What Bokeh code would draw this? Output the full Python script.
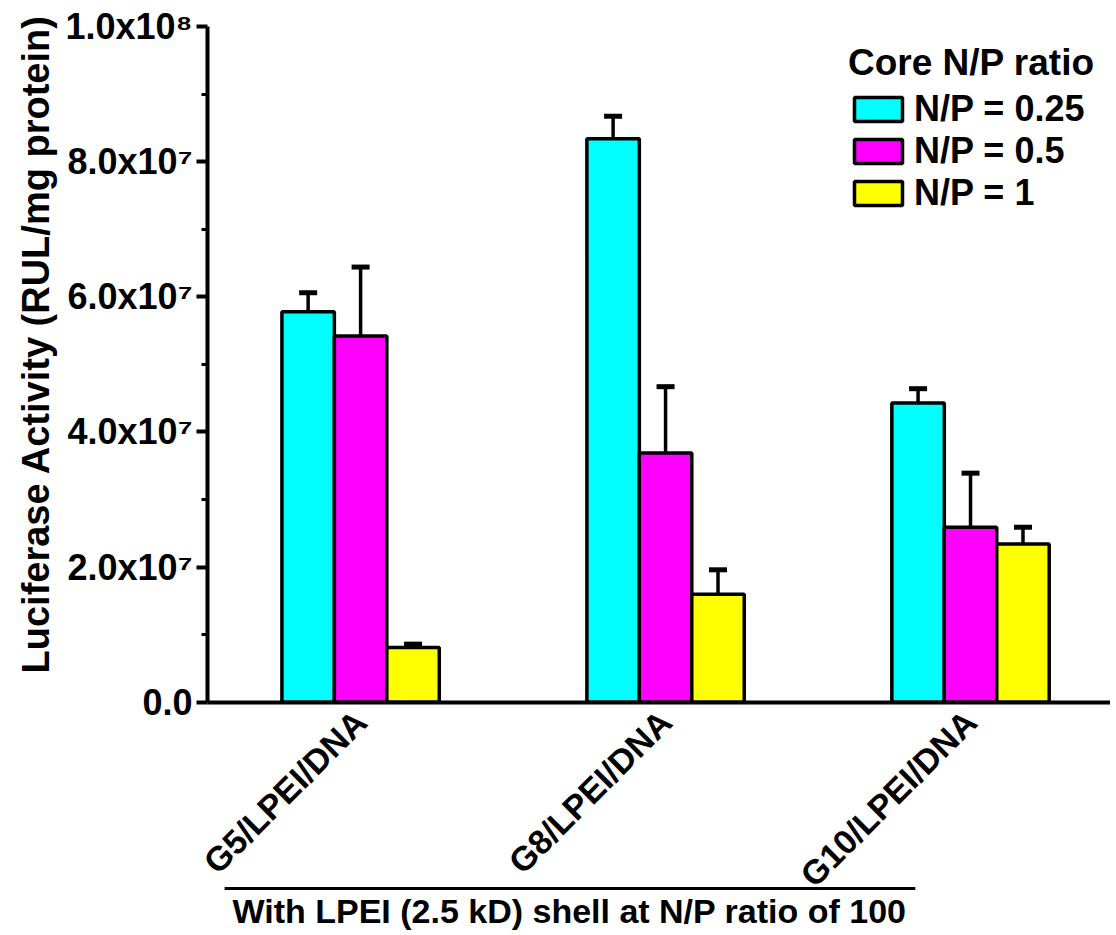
import numpy as np
from bokeh.plotting import figure
from bokeh.models import (ColumnDataSource, FixedTicker, CustomJSTickFormatter, Whisker, TeeHead)
from bokeh.core.properties import value
from bokeh.embed import file_html
from bokeh.resources import INLINE

categories = ["G5/LPEI/DNA", "G8/LPEI/DNA", "G10/LPEI/DNA"]
series_names = ["N/P = 0.25", "N/P = 0.5", "N/P = 1"]
np025 = [5.78e7, 8.34e7, 4.43e7]
np025_err = [0.28e7, 0.33e7, 0.21e7]
np05 = [5.42e7, 3.69e7, 2.59e7]
np05_err = [1.02e7, 0.98e7, 0.80e7]
np1 = [0.81e7, 1.60e7, 2.34e7]
np1_err = [0.05e7, 0.36e7, 0.25e7]
colors = ["#00FFFF", "#FF00FF", "#FFFF00"]
y_ticks = [0, 2e7, 4e7, 6e7, 8e7, 1e8]
y_minor = [1e7, 3e7, 5e7, 7e7, 9e7]
y_title = "Luciferase Activity (RUL/mg protein)"
bracket_text = "With LPEI (2.5 kD) shell at N/P ratio of 100"

FONT = "Liberation Sans"
X0, X1 = 0.498, 3.459          # visible span of the category axis
Y0, Y1 = 0.0, 1e8              # visible span of the value axis

p = figure(frame_width=1100, frame_height=926, x_range=(-0.148, X1), y_range=(-3.422e7, 1.0281e8),
           output_backend="svg", toolbar_location=None,
           min_border_left=10, min_border_top=7, min_border_right=0, min_border_bottom=0)
p.outline_line_color = None
p.xgrid.visible = False
p.ygrid.visible = False

centers = np.arange(1, len(categories) + 1, dtype=float)
bw = 0.172
series = [(np025, np025_err), (np05, np05_err), (np1, np1_err)]
offsets = [-bw, 0.0, bw]
for (vals, errs), off, col, name in zip(series, offsets, colors, series_names):
    vals = np.array(vals)
    errs = np.array(errs)
    src = ColumnDataSource(dict(x=centers + off, top=vals, upper=vals + errs))
    p.vbar(x="x", top="top", bottom=0, width=bw, source=src, fill_color=col, line_color="black",
           line_width=3.5, legend_label=name)
    w = Whisker(base="x", lower="top", upper="upper", source=src, dimension="height",
                line_color="black", line_width=3.5, lower_head=None,
                upper_head=TeeHead(size=18, line_width=5, line_color="black"),
                level="glyph")
    p.add_layout(w)

# y axis drawn at the left end of the category span
yax = p.yaxis[0]
yax.fixed_location = X0
yax.bounds = (Y0, Y1)
yax.ticker = FixedTicker(ticks=y_ticks, minor_ticks=y_minor)
yax.formatter = CustomJSTickFormatter(code="""
    if (tick == 0) { return "0.0"; }
    const sup = ["\u2070","\u00b9","\u00b2","\u00b3","\u2074","\u2075","\u2076","\u2077","\u2078","\u2079"];
    const e = Math.floor(Math.log10(tick) + 1e-9);
    const m = tick / Math.pow(10, e);
    return m.toFixed(1) + "x10" + sup[e];
""")
yax.major_label_text_font = FONT
yax.major_label_text_font_style = "bold"
yax.major_label_text_font_size = "36px"
yax.major_label_text_color = "black"
yax.major_label_standoff = 4
yax.axis_line_width = 4
yax.axis_line_color = "black"
yax.major_tick_line_width = 4
yax.major_tick_line_color = "black"
yax.major_tick_out = 11
yax.major_tick_in = 0
yax.minor_tick_line_width = 3
yax.minor_tick_line_color = "black"
yax.minor_tick_out = 6
yax.minor_tick_in = 0

# y axis title
p.text(x=[-0.066], y=[5.3e7], text=[y_title], angle=np.pi / 2,
       text_font=value(FONT), text_font_style="bold", text_font_size="38px",
       text_align="center", text_baseline="middle", text_color="black")

# x axis fixed at y = 0
xax = p.xaxis[0]
xax.fixed_location = 0
xax.bounds = (X0, X1)
xax.ticker = FixedTicker(ticks=list(centers))
xax.major_label_overrides = {float(c): lab for c, lab in zip(centers, categories)}
xax.major_label_orientation = np.pi / 4
xax.major_label_text_font = FONT
xax.major_label_text_font_style = "bold"
xax.major_label_text_font_size = "34px"
xax.major_label_text_color = "black"
xax.major_label_standoff = 8
xax.axis_line_width = 4
xax.axis_line_color = "black"
xax.major_tick_line_color = None
xax.minor_tick_line_color = None

# group bracket below the category labels
p.segment(x0=[0.554], y0=[-2.756e7], x1=[2.819], y1=[-2.756e7], line_color="black", line_width=3)
p.text(x=[1.685], y=[-3.09e7], text=[bracket_text], text_font=value(FONT),
       text_font_style="bold", text_font_size="34px", text_align="center",
       text_baseline="middle", text_color="black")

# legend
leg = p.legend[0]
leg.title = "Core N/P ratio"
leg.title_text_font = FONT
leg.title_text_font_style = "bold"
leg.title_text_font_size = "37px"
leg.title_text_color = "black"
leg.title_standoff = 4
leg.label_text_font = FONT
leg.label_text_font_style = "bold"
leg.label_text_font_size = "36px"
leg.label_text_color = "black"
leg.glyph_width = 60
leg.glyph_height = 30
leg.label_standoff = 6
leg.spacing = 0
leg.padding = 0
leg.margin = 0
leg.border_line_color = None
leg.background_fill_alpha = 0
leg.location = (838, 719)

open("out.html", "w").write(file_html(p, INLINE))
